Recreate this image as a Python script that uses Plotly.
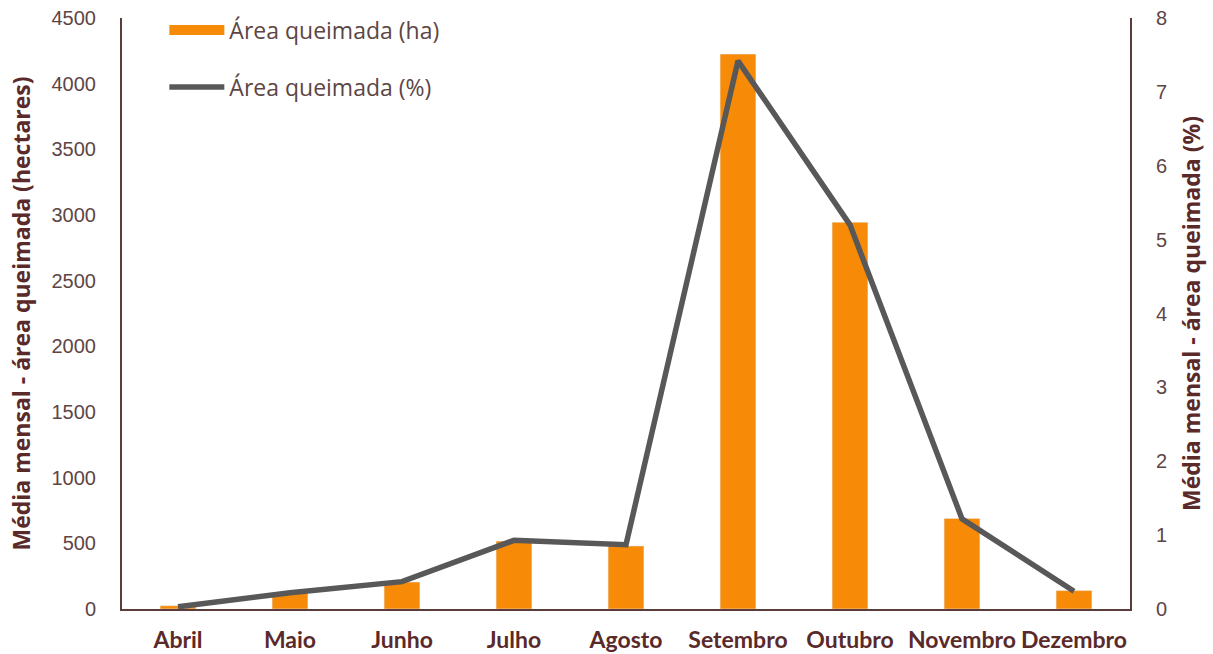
import plotly.graph_objects as go

months = ["Abril", "Maio", "Junho", "Julho", "Agosto", "Setembro", "Outubro", "Novembro", "Dezembro"]
area_ha = [25, 122, 205, 517, 480, 4225, 2945, 690, 140]
area_pct = [0.03, 0.22, 0.37, 0.93, 0.87, 7.42, 5.2, 1.22, 0.24]

left_ticks = [0, 500, 1000, 1500, 2000, 2500, 3000, 3500, 4000, 4500]
right_ticks = [0, 1, 2, 3, 4, 5, 6, 7, 8]

axis_col = "#5C3B3B"
title_col = "#5A2A2A"
tick_col = "#5E4545"
orange = "#F78B07"
gray = "#585858"

fig = go.Figure()
fig.add_trace(go.Bar(x=months, y=area_ha, name="Área queimada (ha)", marker_color=orange,
                     width=0.32, showlegend=False))
# legend entry for the bars (wide swatch as in the reference)
fig.add_trace(go.Scatter(x=[None], y=[None], name="Área queimada (ha)", mode="lines",
                         line=dict(color=orange, width=15), legendgroup="a"))
fig.add_trace(go.Scatter(x=months, y=area_pct, name="Área queimada (%)", mode="lines",
                         line=dict(color=gray, width=5.5), yaxis="y2", legendgroup="b"))

fig.update_layout(
    width=1213, height=654,
    margin=dict(l=122, r=83, t=18, b=45, autoexpand=False),
    plot_bgcolor="white", paper_bgcolor="white",
    font=dict(family="Liberation Sans, Arial, sans-serif", color=tick_col, size=20),
    bargap=0.68,
    showlegend=True,
    legend=dict(x=0.042, y=1.016, xanchor="left", yanchor="top", bgcolor="rgba(0,0,0,0)",
                font=dict(family="Open Sans, sans-serif", size=23, color=tick_col),
                tracegroupgap=24, itemwidth=55),
    xaxis=dict(type="category", range=[-0.5, 8.5], showline=True, linecolor=axis_col, linewidth=2,
               ticks="", showgrid=False, zeroline=False, ticklabelstandoff=9,
               tickfont=dict(family="Lato, sans-serif", size=23, color=title_col, weight="bold")),
    yaxis=dict(range=[0, 4500], tickvals=left_ticks, showline=True, linecolor=axis_col, linewidth=2,
               ticks="", showgrid=False, zeroline=False, ticklabelstandoff=20,
               title=dict(text="Média mensal - área queimada (hectares)", standoff=14,
                          font=dict(family="Open Sans, sans-serif", size=23, color=title_col, weight="bold"))),
    yaxis2=dict(range=[0, 8], tickvals=right_ticks, overlaying="y", side="right", showline=True,
                linecolor=axis_col, linewidth=2, ticks="", showgrid=False, zeroline=False,
                ticklabelstandoff=20,
                title=dict(text="Média mensal - área queimada (%)", standoff=18,
                           font=dict(family="Open Sans, sans-serif", size=23, color=title_col, weight="bold"))),
)

fig.write_html("out.html")
